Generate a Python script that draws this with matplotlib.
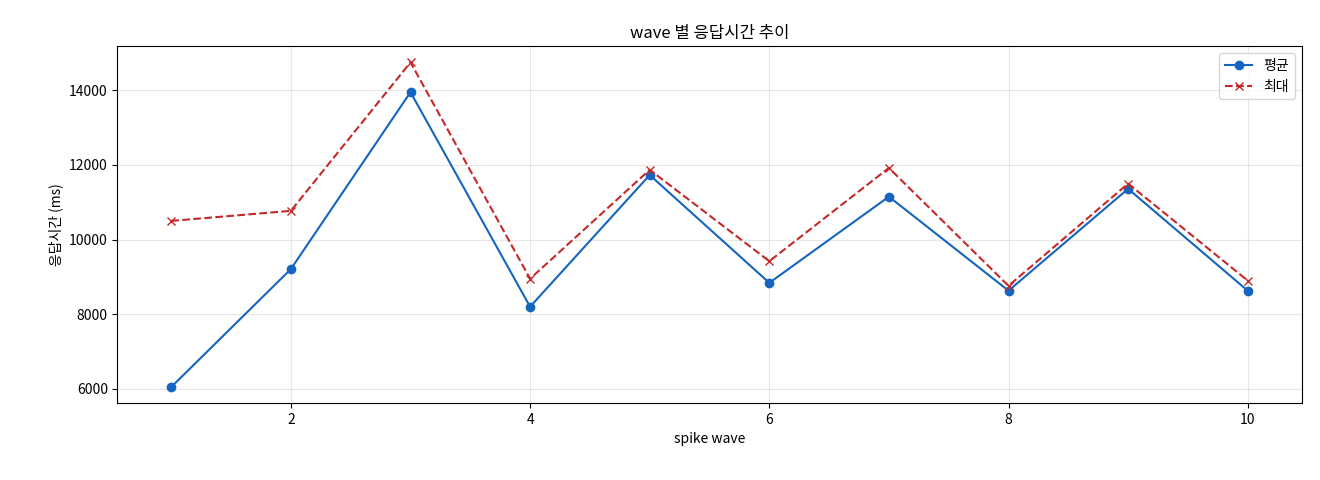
import matplotlib.pyplot as plt

plt.rcParams['font.family'] = ['Noto Sans CJK KR', 'DejaVu Sans']

waves = [1, 2, 3, 4, 5, 6, 7, 8, 9, 10]
avg_ms = [6050, 9210, 13950, 8200, 11730, 8840, 11150, 8630, 11360, 8630]
max_ms = [10500, 10770, 14750, 8950, 11870, 9420, 11920, 8760, 11500, 8900]

fig, ax = plt.subplots(figsize=(13.2, 4.8), dpi=100)
fig.subplots_adjust(left=0.089, right=0.986, top=0.904, bottom=0.16)

ax.plot(waves, avg_ms, marker='o', color='#1565c0', label='평균')
ax.plot(waves, max_ms, marker='x', linestyle='--', color='#c62828', label='최대')

ax.set_title('wave 별 응답시간 추이')
ax.set_xlabel('spike wave')
ax.set_ylabel('응답시간 (ms)')
ax.grid(True, alpha=0.3)
ax.legend(loc='upper right')

fig.savefig('out.png')
